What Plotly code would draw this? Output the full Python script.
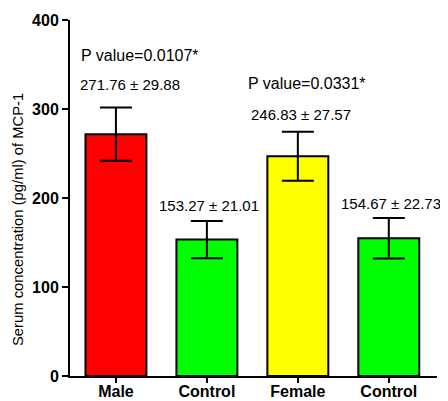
import plotly.graph_objects as go

categories = ["Male", "Control", "Female", "Control"]
means = [271.76, 153.27, 246.83, 154.67]
sems = [29.88, 21.01, 27.57, 22.73]
colors = ["#ff0000", "#00ff00", "#ffff00", "#00ff00"]
pvalues = ["P value=0.0107*", "P value=0.0331*"]
xpos = [0, 1, 2, 3]

FONT = "Arial, Liberation Sans, sans-serif"

# page has an 8px body margin; figure sized to fit the 448x401 window
W, H = 440, 393
L, R, T, B = 62, 11, 12, 25

fig = go.Figure()
fig.add_trace(go.Bar(
    x=xpos, y=means,
    marker=dict(color=colors, line=dict(color="black", width=2)),
    width=0.67,
    error_y=dict(type="data", array=sems, visible=True, color="black", thickness=2, width=16),
    cliponaxis=False,
))

labels = [f"{m:.2f} ± {s:.2f}" for m, s in zip(means, sems)]
ann = [
    dict(x=0.26, y=360.5, text=pvalues[0], size=16),
    dict(x=0.15, y=327, text=labels[0], size=15),
    dict(x=1.02, y=192, text=labels[1], size=15),
    dict(x=2.10, y=329, text=pvalues[1], size=16),
    dict(x=2.03, y=294, text=labels[2], size=15),
    dict(x=3.02, y=194, text=labels[3], size=15),
]
for a in ann:
    fig.add_annotation(x=a["x"], y=a["y"], text=a["text"], showarrow=False,
                       font=dict(family=FONT, size=a["size"], color="black"),
                       xref="x", yref="y")

pw = W - L - R
ph = H - T - B
fig.add_annotation(x=(10 - L) / pw, y=(H - B - 212) / ph, xref="paper", yref="paper",
                   xanchor="center", yanchor="middle",
                   text="Serum concentration (pg/ml) of MCP-1",
                   showarrow=False, textangle=-90,
                   font=dict(family=FONT, size=14.8, color="black"))

fig.update_layout(
    width=W, height=H,
    margin=dict(l=L, r=R, t=T, b=B, autoexpand=False),
    plot_bgcolor="white", paper_bgcolor="white",
    showlegend=False,
    font=dict(family=FONT, color="black"),
    xaxis=dict(
        range=[-0.505, 3.53], tickmode="array", tickvals=xpos, ticktext=categories,
        showline=True, linecolor="black", linewidth=2, ticks="outside", ticklen=5,
        tickwidth=2, tickcolor="black", showgrid=False, zeroline=False, automargin=False,
        ticklabelstandoff=-5,
        tickfont=dict(family=FONT, size=16, color="black", weight="bold"),
    ),
    yaxis=dict(
        range=[0, 400], tickvals=[0, 100, 200, 300, 400],
        showline=True, linecolor="black", linewidth=2, ticks="outside", ticklen=6,
        tickwidth=2, tickcolor="black", showgrid=False, zeroline=False, automargin=False,
        tickfont=dict(family=FONT, size=16, color="black", weight="bold"),
    ),
)

fig.write_html("out.html")
